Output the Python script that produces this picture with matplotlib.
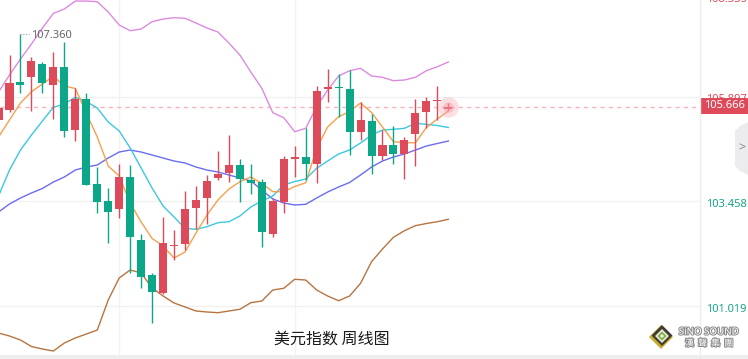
import numpy as np
import matplotlib
matplotlib.use('Agg')
import matplotlib.pyplot as plt
from matplotlib.patches import Rectangle, Polygon
import matplotlib.patheffects as pe

plt.rcParams['font.family'] = ['Noto Sans', 'Noto Sans CJK SC', 'DejaVu Sans']

# 周线K线数据 (开 高 低 收)
opens = [105.353, 105.587, 106.240, 106.364, 106.667, 106.163, 106.597, 105.120, 105.836, 103.867,
         103.456, 103.276, 104.030, 102.553, 101.736, 101.309, 102.413, 102.459, 103.292, 103.540,
         104.007, 104.109, 104.296, 103.953, 103.906, 102.700, 103.439, 104.450, 104.497, 104.326,
         106.070, 106.130, 106.077, 105.073, 105.337, 104.520, 104.770, 104.560, 105.033, 105.547,
         105.790, 105.603]
highs = [105.750, 106.870, 107.360, 106.831, 106.714, 106.933, 107.181, 106.093, 105.990, 104.263,
         103.759, 104.326, 104.303, 102.686, 101.775, 103.097, 102.786, 103.703, 103.820, 104.070,
         104.630, 104.996, 104.436, 104.319, 103.983, 103.533, 104.513, 104.746, 105.160, 106.147,
         106.543, 106.427, 106.520, 105.780, 105.493, 105.120, 105.213, 104.949, 105.836, 105.897,
         106.147, 105.750]
lows = [105.300, 105.547, 105.976, 105.570, 105.976, 105.377, 104.963, 104.870, 103.843, 103.190,
        102.476, 103.073, 101.775, 101.440, 100.623, 101.290, 102.086, 102.319, 102.802, 102.919,
        103.946, 103.906, 103.439, 103.619, 102.396, 102.630, 103.176, 104.030, 103.953, 103.890,
        105.780, 105.430, 104.536, 104.886, 104.093, 104.420, 104.326, 103.969, 104.280, 105.160,
        105.353, 105.587]
closes = [105.633, 106.224, 106.163, 106.730, 106.224, 106.597, 105.096, 105.850, 103.843, 103.439,
          103.213, 104.030, 102.623, 101.696, 101.346, 102.476, 102.436, 103.276, 103.479, 103.930,
          104.100, 104.296, 103.976, 103.890, 102.746, 103.463, 104.436, 104.497, 104.319, 106.030,
          106.130, 106.107, 105.080, 105.346, 104.520, 104.770, 104.560, 104.886, 105.510, 105.797,
          105.813, 105.666]

# 均线 / 布林带
ma5 = [104.956, 105.353, 105.750, 106.014, 106.193, 106.380, 106.147, 106.088, 105.517, 104.956,
       104.280, 104.046, 103.416, 102.973, 102.588, 102.413, 102.133, 102.273, 102.716, 103.136,
       103.486, 103.743, 103.913, 104.023, 103.876, 103.680, 103.680, 103.801, 103.890, 104.693,
       105.190, 105.430, 105.552, 105.750, 105.528, 105.190, 104.847, 104.823, 104.823, 105.178,
       105.377, 105.563]
ma10 = [103.580, 104.186, 104.653, 105.003, 105.330, 105.650, 105.727, 105.883, 105.785, 105.633,
        105.307, 105.097, 104.700, 104.233, 103.766, 103.346, 103.090, 102.826, 102.802, 102.863,
        102.957, 102.980, 103.113, 103.323, 103.463, 103.580, 103.836, 103.918, 103.976, 104.226,
        104.396, 104.560, 104.653, 104.817, 105.003, 105.120, 105.136, 105.160, 105.276, 105.253,
        105.225, 105.178]
boll_mid = [103.206, 103.393, 103.533, 103.650, 103.755, 103.906, 104.023, 104.186, 104.256, 104.303,
            104.466, 104.606, 104.653, 104.606, 104.536, 104.466, 104.396, 104.350, 104.256, 104.186,
            104.140, 104.070, 104.000, 103.930, 103.720, 103.510, 103.416, 103.370, 103.386, 103.533,
            103.673, 103.790, 103.895, 104.070, 104.256, 104.396, 104.490, 104.560, 104.653, 104.746,
            104.805, 104.863]
boll_up = [106.007, 106.403, 106.777, 107.127, 107.500, 107.843, 107.944, 108.130, 108.130, 108.114,
           107.874, 107.570, 107.437, 107.477, 107.647, 107.710, 107.741, 107.727, 107.617, 107.500,
           107.407, 107.150, 106.870, 106.473, 106.093, 105.524, 105.407, 105.080, 105.160, 105.664,
           106.053, 106.380, 106.504, 106.560, 106.380, 106.350, 106.270, 106.287, 106.350, 106.504,
           106.597, 106.707]
boll_dn = [100.382, 100.312, 100.219, 100.067, 100.009, 99.962, 100.149, 100.266, 100.359, 100.452,
           101.153, 101.666, 101.853, 101.783, 101.433, 101.246, 101.083, 100.989, 100.896, 100.873,
           100.856, 100.896, 100.936, 101.090, 101.129, 101.386, 101.426, 101.636, 101.619, 101.386,
           101.246, 101.136, 101.246, 101.542, 102.046, 102.343, 102.616, 102.770, 102.887, 102.938,
           102.980, 103.036]

price_ticks = [108.335, 105.897, 103.458, 101.019]
last_price = 105.666
high_label = '107.360'
title = '美元指数 周线图'

RED = '#dd4b5a'
GREEN = '#0ca689'
W, H = 748, 359

fig = plt.figure(figsize=(W / 100, H / 100), dpi=100)
fig.patch.set_facecolor('white')
ax = fig.add_axes([0, 4 / H, 699 / W, 355 / H])
ax.set_xlim(1.134, 64.85)
ax.set_ylim(99.869, 108.154)
ax.axis('off')

x = np.arange(1, len(opens) + 1)

# 网格
for p in price_ticks:
    ax.axhline(p, color='#f0f0f0', lw=1, zorder=0)
for gx in [12, 28]:
    ax.axvline(gx, color='#f2f2f2', lw=1, zorder=0)

# 线
ax.plot(x, boll_up, color='#dd8add', lw=1, zorder=2)
ax.plot(x, boll_dn, color='#b8743f', lw=1, zorder=2)
ax.plot(x, boll_mid, color='#6b6cf0', lw=1, zorder=2)
ax.plot(x, ma10, color='#3cc8e0', lw=1, zorder=2)
ax.plot(x, ma5, color='#f7a04c', lw=1, zorder=2)

# K线
for i in range(len(opens)):
    o, h, l, c = opens[i], highs[i], lows[i], closes[i]
    col = RED if c >= o else GREEN
    ax.vlines(x[i], l, h, color=col, lw=1, zorder=3)
    bh = max(abs(c - o), 0.025)
    ax.bar(x[i], bh, bottom=min(o, c), width=0.73, color=col, lw=0, zorder=4)

# 当前价虚线 + 光晕
ax.axhline(last_price, color='#f7b3bd', lw=1, dashes=(3, 3), zorder=1)
ax.scatter([x[-1]], [last_price], s=220, color='#f5a5b0', alpha=0.35, lw=0, zorder=5)
ax.scatter([x[-1]], [last_price], s=60, color='#f08a98', alpha=0.35, lw=0, zorder=5)

# 最高价标注
ax.plot([3.0, 3.8], [107.36, 107.36], color='#999999', lw=0.8, ls=(0, (1, 1.5)), zorder=5)
ax.text(3.95, 107.33, high_label, color='#666666', fontsize=8, va='center', ha='left', zorder=6)

# 右侧价格轴
fig.add_artist(plt.Line2D([699.5 / W, 699.5 / W], [0, 1], color='#ececec', lw=1))
label_top = [-6, 94.5, 199, 303.5]
label_col = [RED, RED, '#14a48a', '#14a48a']
for p, yt, cl in zip(price_ticks, label_top, label_col):
    fig.text(706 / W, 1 - yt / H, f'{p:.3f}', color=cl, fontsize=8, va='top', ha='left')

fig.add_artist(Rectangle((700 / W, 1 - 113.5 / H), 48 / W, 16 / H, transform=fig.transFigure,
                         facecolor=RED, edgecolor='none'))
fig.text(724 / W, 1 - 105.7 / H, f'{last_price:.3f}', color='white', fontsize=8,
         va='center', ha='center')

# 右侧折叠按钮
tab = [(748, 122), (740, 126), (735, 131), (735, 166), (740, 171), (748, 175)]
fig.add_artist(Polygon([(px / W, 1 - py / H) for px, py in tab], closed=True,
                       transform=fig.transFigure, facecolor='#ececef', edgecolor='none'))
fig.text(742 / W, 1 - 148 / H, '>', color='#8a8a93', fontsize=9, va='center', ha='center')

# 底部条
fig.add_artist(Rectangle((0, 0), 1, 4 / H, transform=fig.transFigure,
                         facecolor='#eeeeee', edgecolor='none'))

# 标题
fig.text(331.7 / W, 1 - 339 / H, title, fontsize=11.5, color='#1a1a1a',
         family=['Noto Sans CJK SC', 'DejaVu Sans'], ha='center', va='center')

# logo
def diamond(cx, cy, r, color):
    pts = [(cx, cy - r), (cx + r, cy), (cx, cy + r), (cx - r, cy)]
    fig.add_artist(Polygon([(px / W, 1 - py / H) for px, py in pts], closed=True,
                           transform=fig.transFigure, facecolor=color, edgecolor='none'))

diamond(661, 337, 12, '#c9ad2c')
diamond(662, 335.5, 10.5, '#3f3b30')
diamond(662, 336, 7, '#e9e6d8')
diamond(662, 336, 4.5, '#7fb33c')
diamond(662, 336, 2, '#f4f4f4')
stroke = [pe.withStroke(linewidth=1.5, foreground='#8c8c8c')]
fig.text(709 / W, 1 - 332 / H, 'SiNO SOUND', color='white', fontsize=7, fontweight='bold',
         ha='center', va='center', path_effects=stroke)
fig.text(709 / W, 1 - 343.5 / H, '漢  聲  集  團', color='white', fontsize=6.5,
         family=['Noto Sans CJK TC', 'DejaVu Sans'], ha='center', va='center', path_effects=stroke)

fig.savefig('out.png', dpi=100)
